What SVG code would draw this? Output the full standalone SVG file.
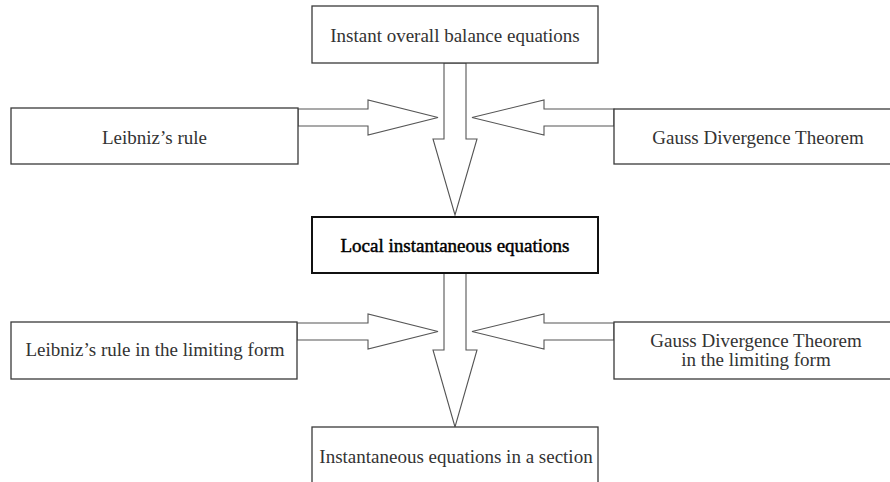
<svg xmlns="http://www.w3.org/2000/svg" width="890" height="482" viewBox="0 0 890 482">
<style>
.box{fill:#fff;stroke:#3a3a3a;stroke-width:1.3}
.main{fill:#fff;stroke:#111;stroke-width:2}
.arr{fill:#fff;stroke:#555;stroke-width:1.1;stroke-linejoin:miter}
text{font-family:"Liberation Serif","Times New Roman",serif;font-size:19px;fill:#333;text-anchor:middle}
.bold{fill:#000;stroke:#000;stroke-width:0.45}
</style>
<rect width="890" height="482" fill="#fff"/>
<g id="connectors">
<polygon class="arr" points="444,63 444,139 433,139 455,215 477,139 466,139 466,63"/>
<polygon class="arr" points="298,109 368,109 368,100 438,117.5 368,135 368,126 298,126"/>
<polygon class="arr" points="614,109 544,109 544,100 472,117.5 544,135 544,126 614,126"/>
<polygon class="arr" points="444,273 444,350 433,350 455,427 477,350 466,350 466,273"/>
<polygon class="arr" points="297,323 368,323 368,314 438,331.5 368,349 368,340 297,340"/>
<polygon class="arr" points="614,323 544,323 544,314 472,331.5 544,349 544,340 614,340"/>
</g>
<g id="n-top"><rect class="box" x="312" y="6" width="286" height="57"/><text x="455" y="42">Instant overall balance equations</text></g>
<g id="n-leibniz"><rect class="box" x="11" y="108" width="287" height="56"/><text x="154.5" y="144">Leibniz’s rule</text></g>
<g id="n-gauss"><rect class="box" x="614" y="109" width="290" height="55"/><text x="758" y="144">Gauss Divergence Theorem</text></g>
<g id="n-local"><rect class="main" x="312" y="217" width="286" height="56"/><text class="bold" x="455" y="252">Local instantaneous equations</text></g>
<g id="n-leibniz-lim"><rect class="box" x="11" y="322" width="286" height="57"/><text x="155" y="356">Leibniz’s rule in the limiting form</text></g>
<g id="n-gauss-lim"><rect class="box" x="614" y="322" width="290" height="57"/><text x="756" y="347">Gauss Divergence Theorem</text><text x="756" y="366">in the limiting form</text></g>
<g id="n-section"><rect class="box" x="312" y="427" width="286" height="80"/><text x="456" y="463">Instantaneous equations in a section</text></g>
</svg>
